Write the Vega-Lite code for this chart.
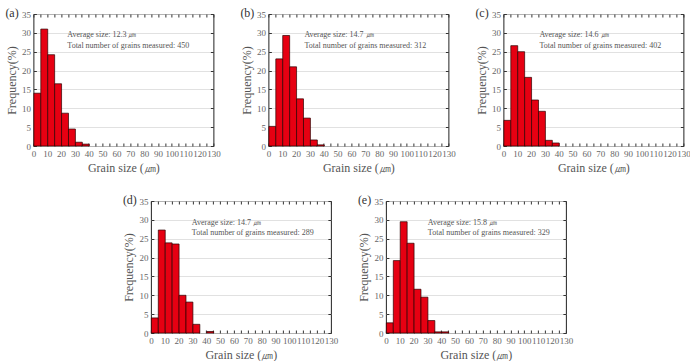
{
  "$schema": "https://vega.github.io/schema/vega-lite/v6.json",
  "padding": {"left": 4, "top": 6, "right": 0, "bottom": 0},
  "background": "white",
  "config": {
    "font": "Liberation Serif",
    "view": {"stroke": "#222", "strokeWidth": 1},
    "axis": {
      "labelFontSize": 9,
      "labelColor": "#666",
      "titleFontSize": 12,
      "titleFontWeight": "normal",
      "titleColor": "#555",
      "domain": false,
      "tickColor": "#333",
      "tickSize": -3,
      "labelPadding": 6,
      "gridColor": "#d9d9d9",
      "gridWidth": 0.8
    },
    "axisY": {"tickCount": 8},
    "title": {"fontSize": 12, "fontWeight": "normal", "anchor": "start", "frame": "bounds", "color": "#333", "dy": 14, "offset": 0}
  },
  "datasets": {
    "bins": [
      {"panel": "a", "size_from": 0, "size_to": 5, "frequency": 14.0},
      {"panel": "a", "size_from": 5, "size_to": 10, "frequency": 31.0},
      {"panel": "a", "size_from": 10, "size_to": 15, "frequency": 24.2},
      {"panel": "a", "size_from": 15, "size_to": 20, "frequency": 16.5},
      {"panel": "a", "size_from": 20, "size_to": 25, "frequency": 8.7},
      {"panel": "a", "size_from": 25, "size_to": 30, "frequency": 4.5},
      {"panel": "a", "size_from": 30, "size_to": 35, "frequency": 1.0},
      {"panel": "a", "size_from": 35, "size_to": 40, "frequency": 0.5},
      {"panel": "b", "size_from": 0, "size_to": 5, "frequency": 5.2},
      {"panel": "b", "size_from": 5, "size_to": 10, "frequency": 23.1},
      {"panel": "b", "size_from": 10, "size_to": 15, "frequency": 29.3},
      {"panel": "b", "size_from": 15, "size_to": 20, "frequency": 21.0},
      {"panel": "b", "size_from": 20, "size_to": 25, "frequency": 12.5},
      {"panel": "b", "size_from": 25, "size_to": 30, "frequency": 7.4},
      {"panel": "b", "size_from": 30, "size_to": 35, "frequency": 1.6},
      {"panel": "b", "size_from": 35, "size_to": 40, "frequency": 0.3},
      {"panel": "c", "size_from": 0, "size_to": 5, "frequency": 6.8},
      {"panel": "c", "size_from": 5, "size_to": 10, "frequency": 26.6},
      {"panel": "c", "size_from": 10, "size_to": 15, "frequency": 25.0},
      {"panel": "c", "size_from": 15, "size_to": 20, "frequency": 18.2},
      {"panel": "c", "size_from": 20, "size_to": 25, "frequency": 12.2},
      {"panel": "c", "size_from": 25, "size_to": 30, "frequency": 9.2},
      {"panel": "c", "size_from": 30, "size_to": 35, "frequency": 1.5},
      {"panel": "c", "size_from": 35, "size_to": 40, "frequency": 0.8},
      {"panel": "d", "size_from": 0, "size_to": 5, "frequency": 4.0},
      {"panel": "d", "size_from": 5, "size_to": 10, "frequency": 27.3},
      {"panel": "d", "size_from": 10, "size_to": 15, "frequency": 23.9},
      {"panel": "d", "size_from": 15, "size_to": 20, "frequency": 23.6},
      {"panel": "d", "size_from": 20, "size_to": 25, "frequency": 10.0},
      {"panel": "d", "size_from": 25, "size_to": 30, "frequency": 8.2},
      {"panel": "d", "size_from": 30, "size_to": 35, "frequency": 2.3},
      {"panel": "d", "size_from": 40, "size_to": 45, "frequency": 0.4},
      {"panel": "e", "size_from": 0, "size_to": 5, "frequency": 2.7},
      {"panel": "e", "size_from": 5, "size_to": 10, "frequency": 19.2},
      {"panel": "e", "size_from": 10, "size_to": 15, "frequency": 29.5},
      {"panel": "e", "size_from": 15, "size_to": 20, "frequency": 23.8},
      {"panel": "e", "size_from": 20, "size_to": 25, "frequency": 11.6},
      {"panel": "e", "size_from": 25, "size_to": 30, "frequency": 9.5},
      {"panel": "e", "size_from": 30, "size_to": 35, "frequency": 3.3},
      {"panel": "e", "size_from": 35, "size_to": 40, "frequency": 0.3},
      {"panel": "e", "size_from": 40, "size_to": 45, "frequency": 0.3}
    ],
    "notes": [
      {"panel": "a", "average": "Average size: 12.3 ㎛", "total": "Total number of grains measured: 450"},
      {"panel": "b", "average": "Average size: 14.7 ㎛", "total": "Total number of grains measured: 312"},
      {"panel": "c", "average": "Average size: 14.6 ㎛", "total": "Total number of grains measured: 402"},
      {"panel": "d", "average": "Average size: 14.7 ㎛", "total": "Total number of grains measured: 289"},
      {"panel": "e", "average": "Average size: 15.8 ㎛", "total": "Total number of grains measured: 329"}
    ]
  },
  "center": true,
  "spacing": 19,
  "vconcat": [
    {
      "spacing": 18,
      "hconcat": [
        {
          "width": 180, "height": 132,
          "title": {"text": "(a)"},
          "resolve": {"axis": {"x": "independent", "y": "independent"}},
          "layer": [
            {"data": {"name": "bins"}, "transform": [{"filter": "datum.panel === 'a'"}],
             "mark": {"type": "bar", "fill": "#e60012", "stroke": "#2b0000", "strokeWidth": 0.7, "binSpacing": 0},
             "encoding": {
               "x": {"field": "size_from", "type": "quantitative", "bin": {"binned": true, "step": 5}, "title": "Grain size (㎛)", "scale": {"domain": [0, 130], "nice": false},
                     "axis": {"values": [0,5,10,15,20,25,30,35,40,45,50,55,60,65,70,75,80,85,90,95,100,105,110,115,120,125,130], "labelExpr": "datum.value % 10 === 0 ? datum.label : ''", "labelOverlap": false, "labelFlush": false, "grid": false, "titlePadding": 4}},
               "x2": {"field": "size_to"},
               "y": {"field": "frequency", "type": "quantitative", "title": "Frequency(%)", "scale": {"domain": [0, 35], "nice": false},
                     "axis": {"values": [0,5,10,15,20,25,30,35], "labelOverlap": false, "grid": true, "titlePadding": 3}}
             }},
            {"data": {"name": "bins"}, "transform": [{"filter": "datum.panel === 'a'"}],
             "mark": {"type": "bar", "opacity": 0, "binSpacing": 0},
             "encoding": {
               "x": {"field": "size_from", "type": "quantitative", "bin": {"binned": true, "step": 5}, "axis": {"orient": "top", "labels": false, "title": null, "grid": false, "values": [0,5,10,15,20,25,30,35,40,45,50,55,60,65,70,75,80,85,90,95,100,105,110,115,120,125,130]}},
               "x2": {"field": "size_to"},
               "y": {"field": "frequency", "type": "quantitative", "axis": {"orient": "right", "labels": false, "title": null, "grid": false, "values": [0,5,10,15,20,25,30,35]}}
             }},
            {"data": {"name": "notes"}, "transform": [{"filter": "datum.panel === 'a'"}],
             "mark": {"type": "text", "align": "left", "baseline": "middle", "fontSize": 8, "color": "#555"},
             "encoding": {"x": {"datum": 24.5, "axis": null}, "y": {"datum": 29.4, "axis": null}, "text": {"field": "average"}}},
            {"data": {"name": "notes"}, "transform": [{"filter": "datum.panel === 'a'"}],
             "mark": {"type": "text", "align": "left", "baseline": "middle", "fontSize": 8, "color": "#555"},
             "encoding": {"x": {"datum": 24.5, "axis": null}, "y": {"datum": 26.5, "axis": null}, "text": {"field": "total"}}}
          ]
        },
        {
          "width": 180, "height": 132,
          "title": {"text": "(b)"},
          "resolve": {"axis": {"x": "independent", "y": "independent"}},
          "layer": [
            {"data": {"name": "bins"}, "transform": [{"filter": "datum.panel === 'b'"}],
             "mark": {"type": "bar", "fill": "#e60012", "stroke": "#2b0000", "strokeWidth": 0.7, "binSpacing": 0},
             "encoding": {
               "x": {"field": "size_from", "type": "quantitative", "bin": {"binned": true, "step": 5}, "title": "Grain size (㎛)", "scale": {"domain": [0, 130], "nice": false},
                     "axis": {"values": [0,5,10,15,20,25,30,35,40,45,50,55,60,65,70,75,80,85,90,95,100,105,110,115,120,125,130], "labelExpr": "datum.value % 10 === 0 ? datum.label : ''", "labelOverlap": false, "labelFlush": false, "grid": false, "titlePadding": 4}},
               "x2": {"field": "size_to"},
               "y": {"field": "frequency", "type": "quantitative", "title": "Frequency(%)", "scale": {"domain": [0, 35], "nice": false},
                     "axis": {"values": [0,5,10,15,20,25,30,35], "labelOverlap": false, "grid": true, "titlePadding": 3}}
             }},
            {"data": {"name": "bins"}, "transform": [{"filter": "datum.panel === 'b'"}],
             "mark": {"type": "bar", "opacity": 0, "binSpacing": 0},
             "encoding": {
               "x": {"field": "size_from", "type": "quantitative", "bin": {"binned": true, "step": 5}, "axis": {"orient": "top", "labels": false, "title": null, "grid": false, "values": [0,5,10,15,20,25,30,35,40,45,50,55,60,65,70,75,80,85,90,95,100,105,110,115,120,125,130]}},
               "x2": {"field": "size_to"},
               "y": {"field": "frequency", "type": "quantitative", "axis": {"orient": "right", "labels": false, "title": null, "grid": false, "values": [0,5,10,15,20,25,30,35]}}
             }},
            {"data": {"name": "notes"}, "transform": [{"filter": "datum.panel === 'b'"}],
             "mark": {"type": "text", "align": "left", "baseline": "middle", "fontSize": 8, "color": "#555"},
             "encoding": {"x": {"datum": 26, "axis": null}, "y": {"datum": 29.4, "axis": null}, "text": {"field": "average"}}},
            {"data": {"name": "notes"}, "transform": [{"filter": "datum.panel === 'b'"}],
             "mark": {"type": "text", "align": "left", "baseline": "middle", "fontSize": 8, "color": "#555"},
             "encoding": {"x": {"datum": 26, "axis": null}, "y": {"datum": 26.5, "axis": null}, "text": {"field": "total"}}}
          ]
        },
        {
          "width": 180, "height": 132,
          "title": {"text": "(c)"},
          "resolve": {"axis": {"x": "independent", "y": "independent"}},
          "layer": [
            {"data": {"name": "bins"}, "transform": [{"filter": "datum.panel === 'c'"}],
             "mark": {"type": "bar", "fill": "#e60012", "stroke": "#2b0000", "strokeWidth": 0.7, "binSpacing": 0},
             "encoding": {
               "x": {"field": "size_from", "type": "quantitative", "bin": {"binned": true, "step": 5}, "title": "Grain size (㎛)", "scale": {"domain": [0, 130], "nice": false},
                     "axis": {"values": [0,5,10,15,20,25,30,35,40,45,50,55,60,65,70,75,80,85,90,95,100,105,110,115,120,125,130], "labelExpr": "datum.value % 10 === 0 ? datum.label : ''", "labelOverlap": false, "labelFlush": false, "grid": false, "titlePadding": 4}},
               "x2": {"field": "size_to"},
               "y": {"field": "frequency", "type": "quantitative", "title": "Frequency(%)", "scale": {"domain": [0, 35], "nice": false},
                     "axis": {"values": [0,5,10,15,20,25,30,35], "labelOverlap": false, "grid": true, "titlePadding": 3}}
             }},
            {"data": {"name": "bins"}, "transform": [{"filter": "datum.panel === 'c'"}],
             "mark": {"type": "bar", "opacity": 0, "binSpacing": 0},
             "encoding": {
               "x": {"field": "size_from", "type": "quantitative", "bin": {"binned": true, "step": 5}, "axis": {"orient": "top", "labels": false, "title": null, "grid": false, "values": [0,5,10,15,20,25,30,35,40,45,50,55,60,65,70,75,80,85,90,95,100,105,110,115,120,125,130]}},
               "x2": {"field": "size_to"},
               "y": {"field": "frequency", "type": "quantitative", "axis": {"orient": "right", "labels": false, "title": null, "grid": false, "values": [0,5,10,15,20,25,30,35]}}
             }},
            {"data": {"name": "notes"}, "transform": [{"filter": "datum.panel === 'c'"}],
             "mark": {"type": "text", "align": "left", "baseline": "middle", "fontSize": 8, "color": "#555"},
             "encoding": {"x": {"datum": 26, "axis": null}, "y": {"datum": 29.4, "axis": null}, "text": {"field": "average"}}},
            {"data": {"name": "notes"}, "transform": [{"filter": "datum.panel === 'c'"}],
             "mark": {"type": "text", "align": "left", "baseline": "middle", "fontSize": 8, "color": "#555"},
             "encoding": {"x": {"datum": 26, "axis": null}, "y": {"datum": 26.5, "axis": null}, "text": {"field": "total"}}}
          ]
        }
      ]
    },
    {
      "spacing": 18,
      "hconcat": [
        {
          "width": 180, "height": 132,
          "title": {"text": "(d)"},
          "resolve": {"axis": {"x": "independent", "y": "independent"}},
          "layer": [
            {"data": {"name": "bins"}, "transform": [{"filter": "datum.panel === 'd'"}],
             "mark": {"type": "bar", "fill": "#e60012", "stroke": "#2b0000", "strokeWidth": 0.7, "binSpacing": 0},
             "encoding": {
               "x": {"field": "size_from", "type": "quantitative", "bin": {"binned": true, "step": 5}, "title": "Grain size (㎛)", "scale": {"domain": [0, 130], "nice": false},
                     "axis": {"values": [0,5,10,15,20,25,30,35,40,45,50,55,60,65,70,75,80,85,90,95,100,105,110,115,120,125,130], "labelExpr": "datum.value % 10 === 0 ? datum.label : ''", "labelOverlap": false, "labelFlush": false, "grid": false, "titlePadding": 4}},
               "x2": {"field": "size_to"},
               "y": {"field": "frequency", "type": "quantitative", "title": "Frequency(%)", "scale": {"domain": [0, 35], "nice": false},
                     "axis": {"values": [0,5,10,15,20,25,30,35], "labelOverlap": false, "grid": true, "titlePadding": 3}}
             }},
            {"data": {"name": "bins"}, "transform": [{"filter": "datum.panel === 'd'"}],
             "mark": {"type": "bar", "opacity": 0, "binSpacing": 0},
             "encoding": {
               "x": {"field": "size_from", "type": "quantitative", "bin": {"binned": true, "step": 5}, "axis": {"orient": "top", "labels": false, "title": null, "grid": false, "values": [0,5,10,15,20,25,30,35,40,45,50,55,60,65,70,75,80,85,90,95,100,105,110,115,120,125,130]}},
               "x2": {"field": "size_to"},
               "y": {"field": "frequency", "type": "quantitative", "axis": {"orient": "right", "labels": false, "title": null, "grid": false, "values": [0,5,10,15,20,25,30,35]}}
             }},
            {"data": {"name": "notes"}, "transform": [{"filter": "datum.panel === 'd'"}],
             "mark": {"type": "text", "align": "left", "baseline": "middle", "fontSize": 8, "color": "#555"},
             "encoding": {"x": {"datum": 29.6, "axis": null}, "y": {"datum": 29.2, "axis": null}, "text": {"field": "average"}}},
            {"data": {"name": "notes"}, "transform": [{"filter": "datum.panel === 'd'"}],
             "mark": {"type": "text", "align": "left", "baseline": "middle", "fontSize": 8, "color": "#555"},
             "encoding": {"x": {"datum": 29.6, "axis": null}, "y": {"datum": 26.5, "axis": null}, "text": {"field": "total"}}}
          ]
        },
        {
          "width": 180, "height": 132,
          "title": {"text": "(e)"},
          "resolve": {"axis": {"x": "independent", "y": "independent"}},
          "layer": [
            {"data": {"name": "bins"}, "transform": [{"filter": "datum.panel === 'e'"}],
             "mark": {"type": "bar", "fill": "#e60012", "stroke": "#2b0000", "strokeWidth": 0.7, "binSpacing": 0},
             "encoding": {
               "x": {"field": "size_from", "type": "quantitative", "bin": {"binned": true, "step": 5}, "title": "Grain size (㎛)", "scale": {"domain": [0, 130], "nice": false},
                     "axis": {"values": [0,5,10,15,20,25,30,35,40,45,50,55,60,65,70,75,80,85,90,95,100,105,110,115,120,125,130], "labelExpr": "datum.value % 10 === 0 ? datum.label : ''", "labelOverlap": false, "labelFlush": false, "grid": false, "titlePadding": 4}},
               "x2": {"field": "size_to"},
               "y": {"field": "frequency", "type": "quantitative", "title": "Frequency(%)", "scale": {"domain": [0, 35], "nice": false},
                     "axis": {"values": [0,5,10,15,20,25,30,35], "labelOverlap": false, "grid": true, "titlePadding": 3}}
             }},
            {"data": {"name": "bins"}, "transform": [{"filter": "datum.panel === 'e'"}],
             "mark": {"type": "bar", "opacity": 0, "binSpacing": 0},
             "encoding": {
               "x": {"field": "size_from", "type": "quantitative", "bin": {"binned": true, "step": 5}, "axis": {"orient": "top", "labels": false, "title": null, "grid": false, "values": [0,5,10,15,20,25,30,35,40,45,50,55,60,65,70,75,80,85,90,95,100,105,110,115,120,125,130]}},
               "x2": {"field": "size_to"},
               "y": {"field": "frequency", "type": "quantitative", "axis": {"orient": "right", "labels": false, "title": null, "grid": false, "values": [0,5,10,15,20,25,30,35]}}
             }},
            {"data": {"name": "notes"}, "transform": [{"filter": "datum.panel === 'e'"}],
             "mark": {"type": "text", "align": "left", "baseline": "middle", "fontSize": 8, "color": "#555"},
             "encoding": {"x": {"datum": 30.3, "axis": null}, "y": {"datum": 29.2, "axis": null}, "text": {"field": "average"}}},
            {"data": {"name": "notes"}, "transform": [{"filter": "datum.panel === 'e'"}],
             "mark": {"type": "text", "align": "left", "baseline": "middle", "fontSize": 8, "color": "#555"},
             "encoding": {"x": {"datum": 30.3, "axis": null}, "y": {"datum": 26.5, "axis": null}, "text": {"field": "total"}}}
          ]
        }
      ]
    }
  ]
}
